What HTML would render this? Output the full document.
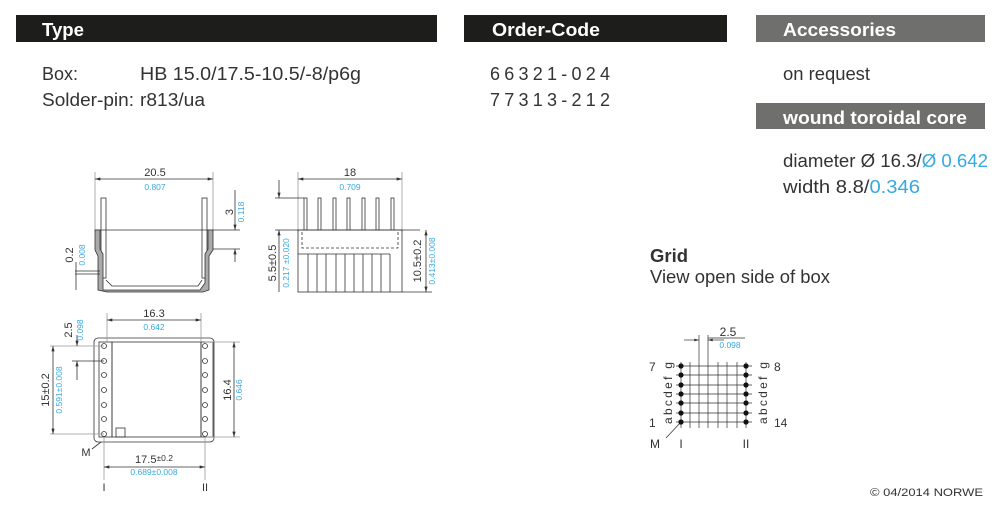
<!DOCTYPE html>
<html><head><meta charset="utf-8"><style>
html,body{margin:0;padding:0;background:#fff;}
svg{display:block;}
text{font-family:"Liberation Sans Narrow","Liberation Sans",sans-serif;}
</style></head><body>
<svg width="1000" height="513" viewBox="0 0 1000 513" xmlns="http://www.w3.org/2000/svg">
<defs>
<marker id="a" viewBox="0 0 10 6" refX="10" refY="3" markerWidth="7" markerHeight="4" orient="auto-start-reverse"><path d="M0,0L10,3L0,6z" fill="#333"/></marker>
</defs>
<!-- header bars -->
<rect x="16" y="15" width="421" height="27" fill="#1d1d1b"/>
<rect x="464" y="15" width="263" height="27" fill="#1d1d1b"/>
<rect x="756" y="15" width="229" height="27" fill="#6f6f6e"/>
<rect x="756" y="103" width="229" height="26" fill="#6f6f6e"/>
<g fill="#fff" font-weight="bold" font-size="18">
<text x="42" y="36" textLength="42" lengthAdjust="spacingAndGlyphs">Type</text>
<text x="492" y="36" textLength="108" lengthAdjust="spacingAndGlyphs">Order-Code</text>
<text x="783" y="36" textLength="113" lengthAdjust="spacingAndGlyphs">Accessories</text>
<text x="783" y="124" textLength="184" lengthAdjust="spacingAndGlyphs">wound toroidal core</text>
</g>
<g fill="#333" font-size="18">
<text x="42" y="80" textLength="36" lengthAdjust="spacingAndGlyphs">Box:</text>
<text x="140" y="80" textLength="221" lengthAdjust="spacingAndGlyphs">HB 15.0/17.5-10.5/-8/p6g</text>
<text x="42" y="106" textLength="92" lengthAdjust="spacingAndGlyphs">Solder-pin:</text>
<text x="140" y="106" textLength="65" lengthAdjust="spacingAndGlyphs">r813/ua</text>
<text x="490" y="80" textLength="120" lengthAdjust="spacing">66321-024</text>
<text x="490" y="106" textLength="120" lengthAdjust="spacing">77313-212</text>
<text x="783" y="80" textLength="87" lengthAdjust="spacingAndGlyphs">on request</text>
<text x="783" y="167" textLength="205" lengthAdjust="spacingAndGlyphs">diameter Ø 16.3/<tspan fill="#36a9e1">Ø 0.642</tspan></text>
<text x="783" y="193" textLength="137" lengthAdjust="spacingAndGlyphs">width 8.8/<tspan fill="#36a9e1">0.346</tspan></text>
<text x="650" y="262" font-weight="bold" textLength="38" lengthAdjust="spacingAndGlyphs">Grid</text>
<text x="650" y="283" textLength="180" lengthAdjust="spacingAndGlyphs">View open side of box</text>
<text x="870" y="496" font-size="11" font-family="Liberation Sans" textLength="113" lengthAdjust="spacingAndGlyphs">© 04/2014 NORWE</text>
</g>

<!-- Drawing 1: side view -->
<g stroke="#333" stroke-width="0.8" fill="none">
<line x1="95" y1="172" x2="95" y2="232" stroke="#999"/>
<line x1="213" y1="172" x2="213" y2="232" stroke="#999"/>
<line x1="95" y1="179" x2="213" y2="179" marker-start="url(#a)" marker-end="url(#a)"/>
<rect x="101" y="198" width="5" height="80"/>
<rect x="202" y="198" width="5" height="80"/>
<line x1="95" y1="230" x2="240" y2="230"/>
<path d="M95,230 L100,230 L100,249 L103,254 L103,290 L200,290 L205,283 L205,254 L208,249 L208,230 L213,230 L213,250 L209,256 L209,290 L203,292 L107,292 L98,290 L98,256 L95,250 Z" fill="#aaa"/>
<path d="M106,280 L112,286 L198,286 L202,280" />
<line x1="213" y1="249" x2="240" y2="249"/>
<line x1="235" y1="190" x2="235" y2="230" marker-end="url(#a)"/>
<line x1="235" y1="262" x2="235" y2="249" marker-end="url(#a)"/>
<line x1="75" y1="271" x2="100" y2="271"/>
<line x1="75" y1="274" x2="100" y2="274"/>
<line x1="76" y1="262" x2="76" y2="290"/>
</g>
<g font-size="11" fill="#333" text-anchor="middle">
<text x="155" y="176">20.5</text>
<text x="155" y="190" font-size="8.5" fill="#36a9e1">0.807</text>
<text transform="translate(233,212) rotate(-90)">3</text>
<text transform="translate(244,212) rotate(-90)" font-size="8.5" fill="#36a9e1">0.118</text>
<text transform="translate(73,255) rotate(-90)">0.2</text>
<text transform="translate(85,255) rotate(-90)" font-size="8.5" fill="#36a9e1">0.008</text>
</g>

<!-- Drawing 2: front view -->
<g stroke="#333" stroke-width="0.8" fill="none">
<line x1="298" y1="172" x2="298" y2="232" stroke="#999"/>
<line x1="402" y1="172" x2="402" y2="232" stroke="#999"/>
<line x1="298" y1="179" x2="402" y2="179" marker-start="url(#a)" marker-end="url(#a)"/>
<g>
<rect x="304" y="198" width="3" height="32"/><rect x="318" y="198" width="3" height="32"/>
<rect x="333" y="198" width="3" height="32"/><rect x="347" y="198" width="3" height="32"/>
<rect x="362" y="198" width="3" height="32"/><rect x="376" y="198" width="3" height="32"/>
<rect x="391" y="198" width="3" height="32"/>
</g>
<line x1="275" y1="198" x2="304" y2="198"/>
<line x1="275" y1="230" x2="420" y2="230"/>
<rect x="298" y="230" width="104" height="62"/>
<path d="M302,232 V248 H398 V232" stroke-dasharray="3,2"/>
<line x1="298" y1="254" x2="390" y2="254"/>
<line x1="390" y1="254" x2="390" y2="292"/>
<path d="M308,254V292M317,254V292M326,254V292M336,254V292M345,254V292M354,254V292M363,254V292M372,254V292M381,254V292"/>
<line x1="279" y1="180" x2="279" y2="198" marker-end="url(#a)"/>
<line x1="279" y1="292" x2="279" y2="230" marker-end="url(#a)"/>
<line x1="402" y1="292" x2="432" y2="292"/>
<line x1="426" y1="230" x2="426" y2="292" marker-start="url(#a)" marker-end="url(#a)"/>
</g>
<g font-size="11" fill="#333" text-anchor="middle">
<text x="350" y="176">18</text>
<text x="350" y="190" font-size="8.5" fill="#36a9e1">0.709</text>
<text transform="translate(276,263) rotate(-90)">5.5±0.5</text>
<text transform="translate(289,263) rotate(-90)" font-size="8.5" fill="#36a9e1">0.217 ±0.020</text>
<text transform="translate(421,261) rotate(-90)">10.5±0.2</text>
<text transform="translate(435,261) rotate(-90)" font-size="8.5" fill="#36a9e1">0.413±0.008</text>
</g>

<!-- Drawing 3: bottom view -->
<g stroke="#333" stroke-width="0.8" fill="none">
<rect x="94" y="338" width="120" height="104" rx="4"/>
<rect x="99" y="342" width="13" height="95"/>
<rect x="201" y="342" width="12" height="95"/>
<rect x="112" y="342" width="89" height="95"/>
<rect x="116" y="428" width="9" height="9"/>
<g fill="#fff">
<circle cx="104" cy="346" r="2.5"/><circle cx="104" cy="361" r="2.5"/><circle cx="104" cy="375" r="2.5"/><circle cx="104" cy="390" r="2.5"/><circle cx="104" cy="405" r="2.5"/><circle cx="104" cy="419" r="2.5"/><circle cx="104" cy="434" r="2.5"/>
<circle cx="205" cy="346" r="2.5"/><circle cx="205" cy="361" r="2.5"/><circle cx="205" cy="375" r="2.5"/><circle cx="205" cy="390" r="2.5"/><circle cx="205" cy="405" r="2.5"/><circle cx="205" cy="419" r="2.5"/><circle cx="205" cy="434" r="2.5"/>
</g>
<line x1="107" y1="313" x2="107" y2="342" stroke="#999"/>
<line x1="201" y1="313" x2="201" y2="342" stroke="#999"/>
<line x1="107" y1="320" x2="201" y2="320" marker-start="url(#a)" marker-end="url(#a)"/>
<line x1="50" y1="346" x2="104" y2="346" stroke="#999"/>
<line x1="50" y1="434" x2="104" y2="434" stroke="#999"/>
<line x1="72" y1="361" x2="104" y2="361"/>
<line x1="53" y1="346" x2="53" y2="434" marker-start="url(#a)" marker-end="url(#a)"/>
<line x1="77" y1="335" x2="77" y2="346" marker-end="url(#a)"/>
<line x1="77" y1="380" x2="77" y2="361" marker-end="url(#a)"/>
<line x1="205" y1="342" x2="240" y2="342" stroke="#999"/>
<line x1="205" y1="437" x2="240" y2="437" stroke="#999"/>
<line x1="234" y1="342" x2="234" y2="437" marker-start="url(#a)" marker-end="url(#a)"/>
<line x1="104" y1="437" x2="104" y2="480" stroke="#999"/>
<line x1="205" y1="437" x2="205" y2="480" stroke="#999"/>
<line x1="104" y1="467" x2="205" y2="467" marker-start="url(#a)" marker-end="url(#a)"/>
<line x1="92" y1="449" x2="101" y2="442"/>
</g>
<g font-size="11" fill="#333" text-anchor="middle">
<text x="154" y="317">16.3</text>
<text x="154" y="330" font-size="8.5" fill="#36a9e1">0.642</text>
<text transform="translate(72,330) rotate(-90)">2.5</text>
<text transform="translate(83,330) rotate(-90)" font-size="8.5" fill="#36a9e1">0.098</text>
<text transform="translate(49,390) rotate(-90)">15±0.2</text>
<text transform="translate(62,390) rotate(-90)" font-size="8.5" fill="#36a9e1">0.591±0.008</text>
<text transform="translate(231,390) rotate(-90)">16.4</text>
<text transform="translate(242,390) rotate(-90)" font-size="8.5" fill="#36a9e1">0.646</text>
<text x="154" y="463">17.5<tspan font-size="8.5" dy="-2">±0.2</tspan></text>
<text x="154" y="475" font-size="8.5" fill="#36a9e1">0.689±0.008</text>
<text x="86" y="456">M</text>
<text x="104" y="491" font-family="Liberation Serif">I</text>
<text x="205" y="491" font-family="Liberation Serif">II</text>
</g>

<!-- Grid -->
<g stroke="#333" stroke-width="0.7" fill="none">
<path d="M681,362V428M690,362V428M699,335V428M708,335V428M718,362V428M727,362V428M737,362V428M746,362V428"/>
<path d="M676,366H752M676,375H752M676,385H752M676,394H752M676,403H752M676,413H752M676,422H752"/>
<line x1="684" y1="340" x2="699" y2="340" marker-end="url(#a)"/>
<line x1="724" y1="340" x2="708" y2="340" marker-end="url(#a)"/>
<line x1="708" y1="338" x2="745" y2="338"/>
<line x1="666" y1="438" x2="681" y2="422"/>
</g>
<g fill="#111">
<circle cx="681" cy="366" r="2.6"/><circle cx="681" cy="375" r="2.6"/><circle cx="681" cy="385" r="2.6"/><circle cx="681" cy="394" r="2.6"/><circle cx="681" cy="403" r="2.6"/><circle cx="681" cy="413" r="2.6"/><circle cx="681" cy="422" r="2.6"/>
<circle cx="746" cy="366" r="2.6"/><circle cx="746" cy="375" r="2.6"/><circle cx="746" cy="385" r="2.6"/><circle cx="746" cy="394" r="2.6"/><circle cx="746" cy="403" r="2.6"/><circle cx="746" cy="413" r="2.6"/><circle cx="746" cy="422" r="2.6"/>
</g>
<g font-size="12" fill="#333">
<text x="728" y="336" text-anchor="middle">2.5</text>
<text x="730" y="348" font-size="8.5" fill="#36a9e1" text-anchor="middle">0.098</text>
<text x="649" y="371">7</text>
<text x="649" y="427">1</text>
<text x="774" y="371">8</text>
<text x="774" y="427">14</text>
<text transform="translate(672,424) rotate(-90)" textLength="62" lengthAdjust="spacing">abcdef g</text>
<text transform="translate(767,424) rotate(-90)" textLength="62" lengthAdjust="spacing">abcdef g</text>
<text x="650" y="448">M</text>
<text x="681" y="448" font-family="Liberation Serif" text-anchor="middle">I</text>
<text x="746" y="448" font-family="Liberation Serif" text-anchor="middle">II</text>
</g>
</svg>
</body></html>
